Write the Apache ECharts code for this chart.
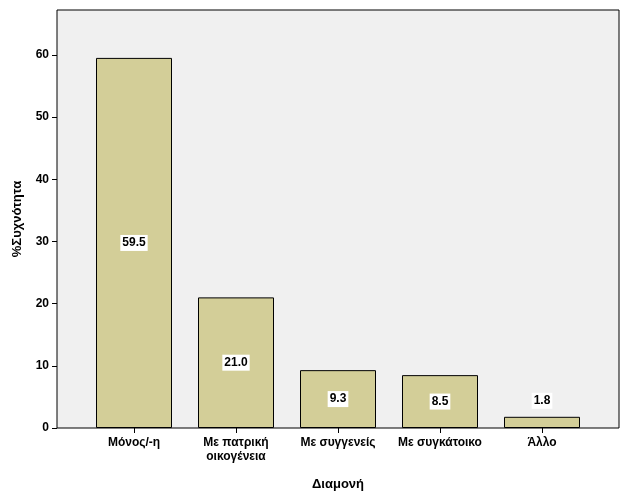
<!DOCTYPE html>
<html><head><meta charset="utf-8">
<script src="https://cdn.jsdelivr.net/npm/echarts@6/dist/echarts.min.js"></script>
<style>html,body{margin:0;padding:0;background:#fff}#c{width:626px;height:501px}</style>
</head><body><div id="c"></div>
<script>
const categories = ['Μόνος/-η', 'Με πατρική\nοικογένεια', 'Με συγγενείς', 'Με συγκάτοικο', 'Άλλο'];
const values = [59.5, 21.0, 9.3, 8.5, 1.8];
const yTicks = [0, 10, 20, 30, 40, 50, 60];

const font = 'Liberation Sans, Arial, sans-serif';
const chart = echarts.init(document.getElementById('c'));
chart.setOption({
  backgroundColor: '#fff',
  animation: false,
  grid: [
    {left: 57, right: 7, top: 10, bottom: 73, show: true, backgroundColor: '#f0f0f0', borderColor: '#000', borderWidth: 1},
    {left: 83, right: 33, top: 10, bottom: 73}
  ],
  xAxis: [
    {gridIndex: 0, type: 'value', show: false, min: 0, max: 1},
    {gridIndex: 1, type: 'category', data: categories,
     axisLine: {show: false}, axisTick: {show: true, length: 5, lineStyle: {color: '#000'}, alignWithLabel: true, interval: 0},
     axisLabel: {color: '#000', fontFamily: font, fontSize: 12, fontWeight: 'bold', margin: 8, lineHeight: 14, interval: 0},
     name: 'Διαμονή', nameLocation: 'middle', nameGap: 50,
     nameTextStyle: {color: '#000', fontFamily: font, fontSize: 13, fontWeight: 'bold'}}
  ],
  yAxis: [
    {gridIndex: 0, type: 'value', min: 0, max: 67.2,
     axisLine: {show: false}, splitLine: {show: false},
     axisTick: {show: true, length: 5, lineStyle: {color: '#000'}, customValues: yTicks},
     axisLabel: {color: '#000', fontFamily: font, fontSize: 12, fontWeight: 'bold', margin: 8, customValues: yTicks},
     name: '%Συχνότητα', nameLocation: 'middle', nameGap: 33,
     nameTextStyle: {color: '#000', fontFamily: font, fontSize: 13, fontWeight: 'bold'}},
    {gridIndex: 1, type: 'value', min: 0, max: 67.2, show: false}
  ],
  series: [{
    type: 'bar', xAxisIndex: 1, yAxisIndex: 1, barWidth: 76,
    data: values.map((v, i) => ({
      value: v,
      label: i === values.length - 1 ? {position: 'top', distance: 8} : {position: 'inside'}
    })),
    itemStyle: {color: '#d3ce98', borderColor: '#000', borderWidth: 1},
    label: {show: true, formatter: p => p.value.toFixed(1), color: '#000', fontFamily: font,
      fontSize: 12, fontWeight: 'bold', backgroundColor: '#fff', padding: [2, 2]}
  }]
});
</script></body></html>
